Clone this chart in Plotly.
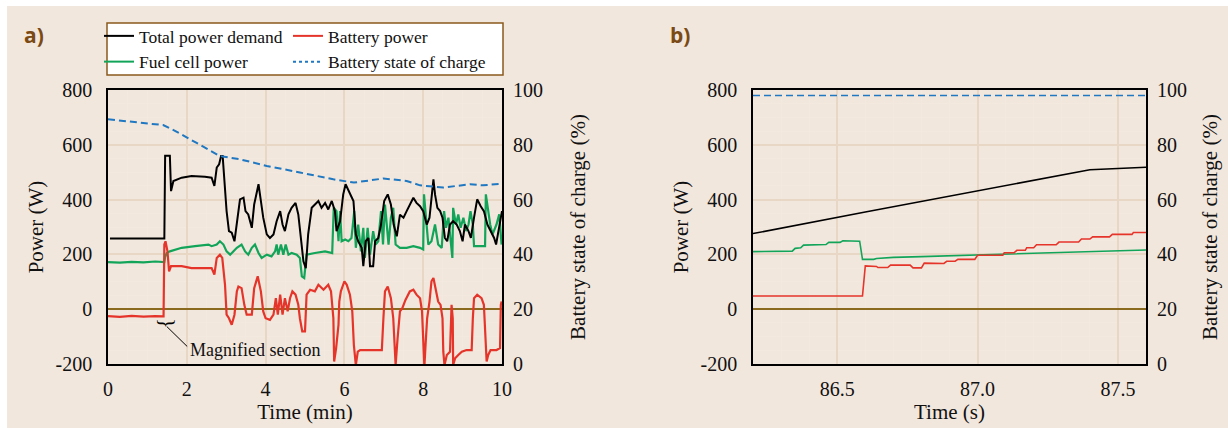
import plotly.graph_objects as go

# ---------------- Panel a data (time in min, power in W, SOC in %) ----------------
total_power_a = [(0.05, 258), (1.43, 258), (1.45, 560), (1.57, 560), (1.6, 431), (1.66, 468), (1.87, 480),
                 (2.12, 486), (2.46, 483), (2.63, 480), (2.7, 450), (2.76, 517), (2.82, 529), (2.87, 559),
                 (2.91, 559), (2.95, 480), (3.01, 358), (3.07, 285), (3.14, 279), (3.21, 248), (3.27, 309),
                 (3.35, 401), (3.44, 407), (3.49, 358), (3.56, 346), (3.65, 297), (3.71, 382), (3.82, 456),
                 (3.88, 395), (3.94, 334), (4.03, 273), (4.11, 260), (4.2, 273), (4.28, 321), (4.37, 358),
                 (4.43, 309), (4.49, 285), (4.58, 346), (4.66, 370), (4.76, 388), (4.83, 346), (4.9, 260),
                 (4.96, 175), (5.02, 150), (5.08, 273), (5.17, 370), (5.25, 382), (5.34, 395), (5.42, 370),
                 (5.51, 388), (5.59, 364), (5.68, 395), (5.76, 358), (5.8, 285), (5.89, 321), (5.97, 419),
                 (6.03, 456), (6.14, 419), (6.23, 395), (6.29, 273), (6.35, 248), (6.44, 224), (6.48, 157),
                 (6.54, 248), (6.61, 260), (6.65, 157), (6.73, 157), (6.78, 248), (6.86, 260), (6.93, 309),
                 (7.01, 395), (7.1, 419), (7.18, 382), (7.25, 309), (7.33, 266), (7.41, 345), (7.5, 334),
                 (7.58, 358), (7.66, 382), (7.75, 407), (7.83, 388), (7.92, 376), (8.0, 358), (8.09, 309),
                 (8.16, 334), (8.21, 419), (8.26, 474), (8.3, 419), (8.36, 370), (8.43, 358), (8.49, 334),
                 (8.55, 260), (8.61, 248), (8.68, 309), (8.76, 321), (8.85, 309), (8.93, 285), (9.0, 248),
                 (9.06, 309), (9.15, 285), (9.21, 260), (9.29, 334), (9.37, 401), (9.46, 376), (9.54, 358),
                 (9.63, 309), (9.71, 285), (9.8, 260), (9.85, 236), (9.91, 285), (10.0, 358)]

fuel_cell_a = [(0.0, 172), (0.3, 170), (0.6, 173), (0.9, 171), (1.2, 174), (1.43, 172), (1.45, 190), (1.49, 205),
               (1.57, 211), (1.87, 224), (2.21, 230), (2.55, 236), (2.63, 230), (2.76, 236), (2.84, 248),
               (2.93, 236), (3.01, 211), (3.1, 199), (3.18, 211), (3.27, 224), (3.39, 236), (3.48, 211),
               (3.56, 199), (3.65, 224), (3.73, 236), (3.82, 205), (3.9, 187), (4.03, 199), (4.15, 193),
               (4.24, 211), (4.28, 236), (4.32, 199), (4.39, 236), (4.45, 199), (4.51, 236), (4.58, 199),
               (4.66, 205), (4.79, 199), (4.87, 187), (4.92, 120), (4.98, 114), (5.04, 199), (5.25, 205),
               (5.51, 211), (5.69, 205), (5.73, 370), (5.8, 358), (5.85, 248), (5.89, 358), (5.93, 248),
               (6.02, 254), (6.1, 248), (6.18, 260), (6.25, 358), (6.29, 224), (6.35, 309), (6.42, 211),
               (6.48, 297), (6.52, 187), (6.59, 297), (6.65, 199), (6.73, 285), (6.79, 236), (6.86, 248),
               (6.93, 358), (6.98, 236), (7.03, 382), (7.12, 236), (7.18, 334), (7.24, 370), (7.3, 236),
               (7.37, 230), (7.41, 224), (7.58, 224), (7.75, 230), (7.92, 224), (8.0, 218), (8.02, 419),
               (8.07, 334), (8.13, 236), (8.21, 248), (8.3, 309), (8.38, 236), (8.47, 224), (8.53, 358),
               (8.58, 297), (8.64, 334), (8.7, 248), (8.74, 187), (8.76, 370), (8.83, 309), (8.89, 346),
               (8.95, 297), (9.02, 334), (9.09, 285), (9.15, 309), (9.2, 358), (9.26, 309), (9.29, 230),
               (9.44, 230), (9.57, 230), (9.59, 419), (9.65, 358), (9.7, 309), (9.76, 273), (9.86, 309),
               (9.93, 346), (9.99, 236)]

battery_a = [(0.0, -25), (0.3, -28), (0.6, -24), (0.9, -27), (1.2, -25), (1.41, -26), (1.43, 236), (1.46, 248),
             (1.51, 211), (1.55, 138), (1.6, 157), (1.87, 157), (2.12, 150), (2.46, 150), (2.63, 150),
             (2.7, 126), (2.76, 187), (2.84, 199), (2.9, 187), (2.97, 89), (3.01, -20), (3.07, -33),
             (3.14, -57), (3.21, -20), (3.27, 65), (3.31, 83), (3.39, 77), (3.46, 16), (3.52, -20),
             (3.65, -20), (3.71, 77), (3.8, 120), (3.88, 65), (3.94, -8), (4.0, -33), (4.11, -39),
             (4.2, -20), (4.26, 40), (4.31, -20), (4.37, 53), (4.43, -20), (4.49, 40), (4.56, -8),
             (4.62, 40), (4.68, 65), (4.76, 53), (4.83, 16), (4.87, -33), (4.93, -81), (5.0, -81),
             (5.04, 53), (5.13, 71), (5.25, 65), (5.34, 89), (5.47, 71), (5.59, 89), (5.66, 65),
             (5.72, -33), (5.74, -191), (5.79, -142), (5.85, -57), (5.87, 28), (5.91, 65), (6.0, 102),
             (6.06, 89), (6.14, 53), (6.2, -8), (6.24, -130), (6.29, -204), (6.34, -155), (6.4, -149),
             (6.69, -149), (6.95, -149), (6.99, -33), (7.03, 65), (7.1, 83), (7.18, 40), (7.24, -33),
             (7.27, -155), (7.3, -204), (7.35, -106), (7.41, -8), (7.47, 4), (7.55, 34), (7.66, 65),
             (7.75, 71), (7.83, 53), (7.92, 40), (7.97, -8), (8.0, -155), (8.03, -210), (8.06, -130),
             (8.1, -33), (8.16, 28), (8.21, 102), (8.26, 114), (8.32, 65), (8.38, 28), (8.44, 16),
             (8.49, -33), (8.51, -155), (8.54, -204), (8.6, -167), (8.68, -155), (8.72, 16), (8.75, -33),
             (8.76, -204), (8.81, -179), (8.89, -167), (8.98, -155), (9.1, -149), (9.23, -149),
             (9.26, -33), (9.29, 40), (9.37, 53), (9.48, 40), (9.54, 16), (9.58, -106), (9.61, -191),
             (9.65, -167), (9.71, -149), (9.86, -149), (9.95, -142), (9.97, 16), (9.99, 28)]

soc_a = [(0.0, 89.3), (1.4, 87.2), (1.7, 85.1), (2.25, 80.8), (2.84, 75.9), (3.35, 74.7), (4.03, 72.3),
         (4.87, 69.9), (5.72, 67.4), (6.24, 66.2), (6.99, 67.7), (7.58, 66.8), (7.92, 65.2), (8.51, 64.4),
         (9.19, 65.6), (9.52, 65.2), (10.0, 65.8)]

# ---------------- Panel b data (time in s) ----------------
total_power_b = [(86.2, 276), (86.6, 355), (87.4, 509), (87.6, 518)]

fuel_cell_b = [(86.2, 210), (86.34, 212), (86.35, 222), (86.37, 224), (86.38, 234), (86.46, 236), (86.47, 244),
               (86.51, 244), (86.52, 250), (86.58, 248), (86.59, 182), (86.63, 182), (86.64, 185),
               (86.7, 189), (86.8, 192), (87.0, 198), (87.17, 204), (87.4, 210), (87.6, 216)]

battery_b = [(86.2, 48), (86.59, 48), (86.6, 158), (86.64, 156), (86.645, 152), (86.68, 152), (86.69, 161),
             (86.76, 161), (86.77, 151), (86.8, 151), (86.81, 168), (86.88, 167), (86.89, 175), (86.92, 175),
             (86.93, 182), (86.99, 182), (87.0, 197), (87.09, 197), (87.095, 206), (87.13, 206),
             (87.14, 215), (87.17, 215), (87.175, 224), (87.2, 224), (87.21, 235), (87.28, 235),
             (87.29, 245), (87.36, 245), (87.37, 256), (87.4, 256), (87.41, 264), (87.47, 264),
             (87.48, 273), (87.55, 273), (87.555, 280), (87.6, 280)]

soc_b = [(86.2, 98.0), (87.6, 98.0)]

power_ticks = [-200, 0, 200, 400, 600, 800]
power_ticktext = ["-200", "0", "200", "400", "600", "800"]
soc_ticks = [0, 20, 40, 60, 80, 100]
xb_ticks = [86.5, 87.0, 87.5]
xb_ticktext = ["86.5", "87.0", "87.5"]

# ---------------- styling ----------------
W, H = 1228, 430
SERIF = "Liberation Serif, Times New Roman, serif"
C_BLACK = "#000000"
C_RED = "#e5352b"
C_GREEN = "#12a55a"
C_BLUE = "#1f78c1"
BEIGE = "#f2e7dd"
GRID_MAJOR = "#e9d7c6"
GRID_MINOR = "#f3e9df"
BROWN = "#8a5a1c"
ZERO = "#8a6a1e"


def px_x(p):
    return p / W


def px_y(p):
    return 1 - p / H


def xy(pairs):
    return [p[0] for p in pairs], [p[1] for p in pairs]


fig = go.Figure()


def add(pairs, name, color, width, xaxis, yaxis, legend, showlegend, dash=None):
    x, y = xy(pairs)
    fig.add_trace(go.Scatter(x=x, y=y, mode="lines", name=name, xaxis=xaxis, yaxis=yaxis,
                             line=dict(color=color, width=width, dash=dash),
                             legend=legend, showlegend=showlegend, hoverinfo="skip"))


DASH = "7px,4px"
# Panel a
add(soc_a, "Battery state of charge", C_BLUE, 2.0, "x", "y2", "legend2", False, DASH)
add(fuel_cell_a, "Fuel cell power", C_GREEN, 2.2, "x", "y", "legend", False)
add(battery_a, "Battery power", C_RED, 2.2, "x", "y", "legend2", False)
add(total_power_a, "Total power demand", C_BLACK, 2.0, "x", "y", "legend", False)
# Panel b
add(soc_b, "Battery state of charge", C_BLUE, 1.6, "x2", "y4", "legend2", False, DASH)
add(fuel_cell_b, "Fuel cell power", C_GREEN, 1.6, "x2", "y3", "legend", False)
add(battery_b, "Battery power", C_RED, 1.6, "x2", "y3", "legend2", False)
add(total_power_b, "Total power demand", C_BLACK, 1.6, "x2", "y3", "legend", False)

# legend-only entries (ordered as in reference)
for name, color, leg, dash in [("Total power demand", C_BLACK, "legend", None),
                               ("Fuel cell power", C_GREEN, "legend", None),
                               ("Battery power", C_RED, "legend2", None),
                               ("Battery state of charge", C_BLUE, "legend2", "dot")]:
    fig.add_trace(go.Scatter(x=[None], y=[None], mode="lines", name=name, xaxis="x", yaxis="y",
                             line=dict(color=color, width=2, dash=dash), legend=leg, showlegend=True))

# plot-area geometry (pixels)
A_L, A_R = 108, 502
B_L, B_R = 753, 1146
P_T, P_B = 90, 364

tickfont = dict(family=SERIF, size=20, color="#111111")
titlefont = dict(family=SERIF, size=21, color="#111111")

xcommon = dict(showline=True, linecolor="black", linewidth=1.5, mirror=True, ticks="",
               showgrid=True, gridcolor=GRID_MAJOR, gridwidth=1.6, zeroline=False, automargin=False,
               tickfont=tickfont, ticklabelstandoff=6)
ycommon = dict(showline=True, linecolor="black", linewidth=1.5, mirror=True, ticks="", automargin=False,
               showgrid=True, gridcolor=GRID_MAJOR, gridwidth=1.6,
               zeroline=True, zerolinecolor=ZERO, zerolinewidth=1.6,
               tickfont=tickfont, ticklabelstandoff=10,
               range=[-200, 800], tickvals=power_ticks, ticktext=power_ticktext,
               minor=dict(dtick=50, tick0=0, showgrid=True, gridcolor=GRID_MINOR, gridwidth=1.2))
y2common = dict(side="right", range=[0, 100], tickvals=soc_ticks, automargin=False,
                showgrid=False, zeroline=False, showline=False, tickfont=tickfont, ticklabelstandoff=10)

fig.update_layout(
    template="none",
    width=W, height=H,
    margin=dict(l=0, r=0, t=0, b=0, autoexpand=False),
    paper_bgcolor="white", plot_bgcolor="white",
    font=dict(family=SERIF, color="#111111"),
    xaxis=dict(xcommon, domain=[px_x(A_L), px_x(A_R)], anchor="y", range=[0, 10], dtick=2, tick0=0,
               minor=dict(dtick=0.5, tick0=0, showgrid=True, gridcolor=GRID_MINOR, gridwidth=1.2),
               title=dict(text="Time (min)", font=titlefont, standoff=4)),
    yaxis=dict(ycommon, domain=[px_y(P_B), px_y(P_T)], anchor="x",
               title=dict(text="Power (W)", font=titlefont, standoff=6)),
    yaxis2=dict(y2common, overlaying="y", anchor="x",
                title=dict(text="Battery state of charge (%)", font=titlefont, standoff=28)),
    xaxis2=dict(xcommon, domain=[px_x(B_L), px_x(B_R)], anchor="y3", range=[86.2, 87.6],
                tickvals=xb_ticks, ticktext=xb_ticktext,
                minor=dict(dtick=0.1, tick0=86.2, showgrid=True, gridcolor=GRID_MINOR, gridwidth=1.2),
                title=dict(text="Time (s)", font=titlefont, standoff=4)),
    yaxis3=dict(ycommon, domain=[px_y(P_B), px_y(P_T)], anchor="x2",
                title=dict(text="Power (W)", font=titlefont, standoff=6)),
    yaxis4=dict(y2common, overlaying="y3", anchor="x2",
                title=dict(text="Battery state of charge (%)", font=titlefont, standoff=16)),
    legend=dict(x=px_x(99), y=px_y(18), xanchor="left", yanchor="top", orientation="v",
                bgcolor="rgba(0,0,0,0)", borderwidth=0, font=dict(family=SERIF, size=17.5, color="#111111"),
                tracegroupgap=0, itemwidth=30),
    legend2=dict(x=px_x(288), y=px_y(18), xanchor="left", yanchor="top", orientation="v",
                 bgcolor="rgba(0,0,0,0)", borderwidth=0, font=dict(family=SERIF, size=17.5, color="#111111"),
                 tracegroupgap=0, itemwidth=30),
    showlegend=True,
)

# background panel, legend box
fig.add_shape(type="rect", xref="paper", yref="paper", x0=px_x(7), x1=1, y0=px_y(428), y1=px_y(6),
              fillcolor=BEIGE, line=dict(width=0), layer="below")
fig.add_shape(type="rect", xref="paper", yref="paper", x0=px_x(107), x1=px_x(503), y0=px_y(75), y1=px_y(23),
              fillcolor="white", line=dict(color=BROWN, width=1.5), layer="below")

# panel labels
for txt, xp in [("a)", 22), ("b)", 668)]:
    fig.add_annotation(text=f"<b>{txt}</b>", xref="paper", yref="paper", x=px_x(xp), y=px_y(35),
                       xanchor="left", yanchor="middle", showarrow=False,
                       font=dict(family="Open Sans, Noto Sans, sans-serif", size=21, color="#7b4a14"))

# magnified section annotation
fig.add_annotation(text="{", x=1.4, y=-52, xref="x", yref="y", textangle=-90, showarrow=False,
                   font=dict(family=SERIF, size=22, color="black"), xanchor="center", yanchor="middle")
fig.add_shape(type="line", xref="x", yref="y", x0=1.49, y0=-63, x1=2.01, y1=-136,
              line=dict(color="black", width=1))
fig.add_annotation(text="Magnified section", x=2.03, y=-149, xref="x", yref="y", showarrow=False,
                   xanchor="left", yanchor="middle", font=dict(family=SERIF, size=18, color="#111111"))

fig.write_html("out.html")
